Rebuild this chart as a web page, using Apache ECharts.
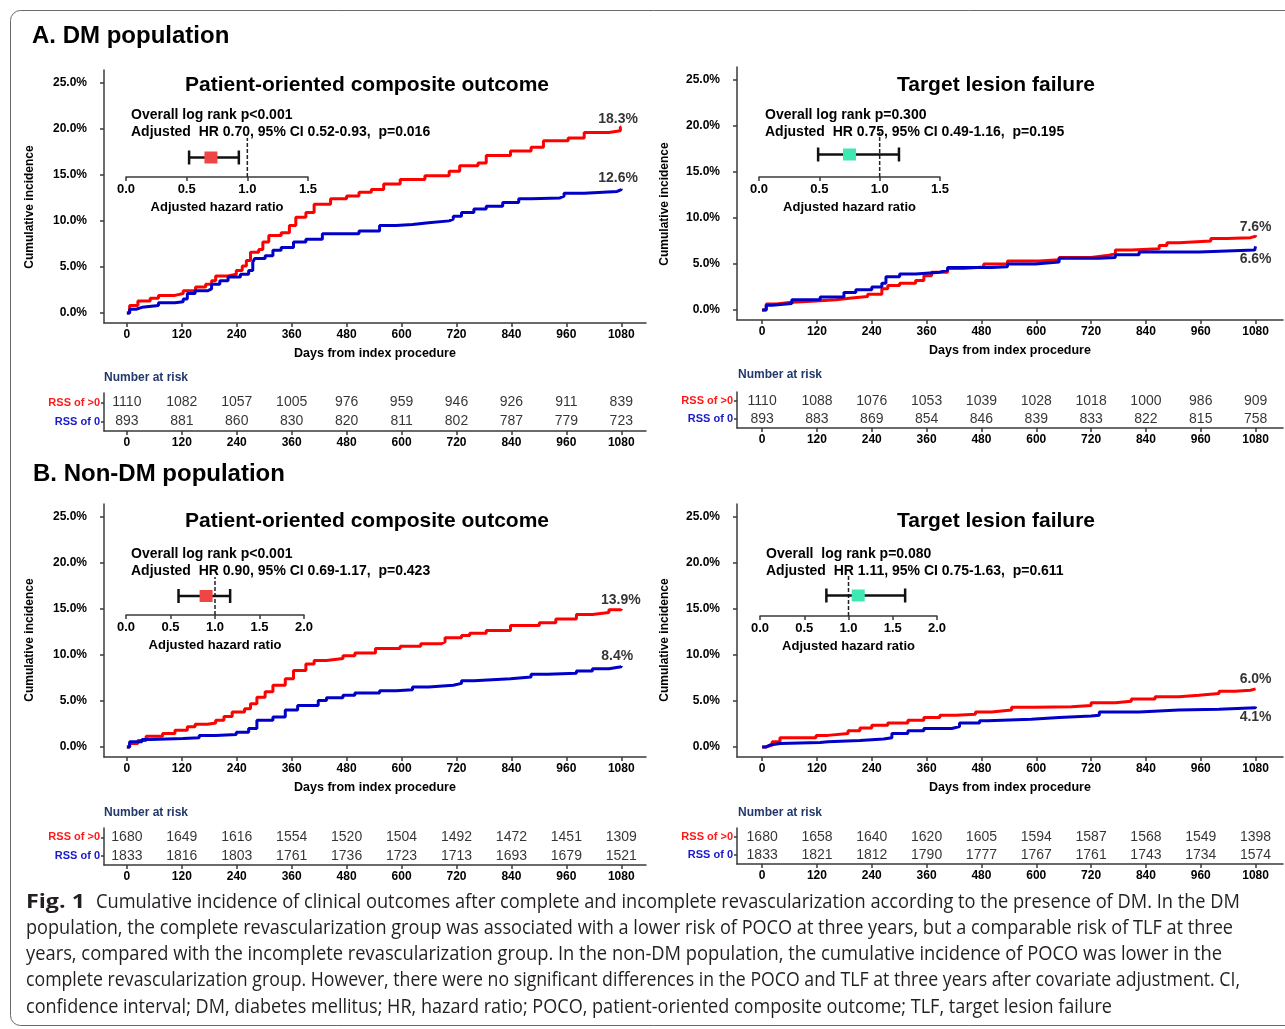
<!DOCTYPE html>
<html>
<head>
<meta charset="utf-8">
<title>Fig. 1 Cumulative incidence</title>
<script src="https://cdn.jsdelivr.net/npm/echarts@6/dist/echarts.min.js"></script>
<style>
  html, body { margin: 0; padding: 0; background: #fff; }
  #main { width: 1285px; height: 1029px; }
</style>
</head>
<body>
<div id="main"></div>
<script>
// ticks
var days = [0, 120, 240, 360, 480, 600, 720, 840, 960, 1080];
var pctTicks = [0, 5, 10, 15, 20, 25];
var rowNames = ['RSS of 0', 'RSS of >0'];

// cumulative incidence curves, [day, %] (red = RSS of >0, blue = RSS of 0)
var dmPocoRed = [[0,0],[6,0.8],[24,1.3],[51,1.6],[69,1.9],[105,2.1],[123,2.4],[150,2.8],[172,3.1],[185,3.5],[194,4.0],[221,4.2],[239,4.6],[252,5.1],[261,5.7],[270,6.6],[288,6.9],[297,7.7],[310,8.4],[337,8.7],[355,9.5],[369,10.4],[391,10.9],[409,11.8],[445,12.4],[480,12.7],[507,13.1],[534,13.4],[561,14.0],[597,14.5],[651,14.9],[704,15.4],[727,16.0],[767,16.3],[785,17.1],[838,17.6],[883,18.0],[910,18.7],[964,19.0],[999,19.6],[1053,19.8],[1078,20.2],[1080,20.2]];
var dmPocoBlue = [[0,0],[6,0.4],[20,0.6],[33,0.8],[69,1.1],[105,1.2],[123,1.5],[132,2.1],[149,2.4],[176,2.6],[185,3.1],[203,3.5],[221,3.9],[248,4.2],[266,4.6],[275,5.5],[279,5.9],[302,6.2],[319,6.8],[337,7.1],[364,7.7],[391,8.0],[427,8.6],[507,8.9],[552,9.5],[588,9.6],[624,9.8],[659,10.0],[704,10.2],[713,10.5],[731,10.9],[758,11.3],[785,11.6],[821,12.0],[856,12.4],[883,12.5],[946,12.7],[955,13.0],[999,13.2],[1071,13.4],[1080,13.5]];
var dmTlfRed = [[0,0],[9,0.65],[31,0.84],[65,0.95],[109,1.1],[162,1.3],[196,1.45],[231,1.7],[262,2.3],[275,2.65],[301,2.9],[336,3.2],[354,3.7],[371,4.1],[406,4.5],[441,4.65],[485,5.0],[537,5.3],[607,5.45],[650,5.7],[720,5.9],[755,6.1],[773,6.5],[808,6.65],[869,7.0],[886,7.3],[912,7.5],[982,7.75],[1017,7.85],[1069,8.0],[1080,8.1]];
var dmTlfBlue = [[0,0],[9,0.5],[22,0.7],[65,1.1],[127,1.4],[179,1.9],[205,2.2],[240,2.5],[262,2.9],[271,3.6],[301,3.9],[336,4.1],[389,4.3],[406,4.6],[502,4.7],[537,5.0],[598,5.2],[650,5.6],[738,5.7],[773,6.0],[825,6.3],[956,6.5],[1078,6.65],[1080,6.9]];
var nonDmPocoRed = [[0,0],[6,0.36],[24,0.7],[42,1.15],[78,1.45],[105,1.8],[132,2.2],[149,2.45],[176,2.6],[194,2.9],[212,3.3],[230,3.8],[257,4.15],[270,4.7],[284,5.4],[302,6.0],[319,6.7],[346,7.4],[364,8.3],[391,9.0],[409,9.4],[436,9.6],[472,9.9],[498,10.2],[543,10.7],[597,10.95],[642,11.2],[686,11.4],[695,11.85],[731,12.1],[749,12.35],[785,12.65],[838,13.2],[901,13.5],[937,13.9],[982,14.4],[1017,14.6],[1053,14.9],[1080,15.0]];
var nonDmPocoBlue = [[0,0],[6,0.55],[33,0.8],[51,0.9],[123,1.0],[158,1.25],[194,1.35],[239,1.6],[266,2.0],[284,2.9],[319,3.25],[346,4.0],[373,4.5],[418,5.05],[436,5.35],[472,5.6],[498,5.85],[552,6.1],[588,6.2],[624,6.5],[659,6.7],[713,6.9],[731,7.2],[758,7.4],[838,7.6],[883,7.9],[919,8.0],[982,8.25],[1017,8.5],[1053,8.7],[1080,8.8]];
var nonDmTlfRed = [[0,0],[9,0.2],[22,0.55],[39,1.0],[118,1.25],[144,1.45],[188,1.75],[214,2.05],[240,2.35],[275,2.6],[319,2.9],[354,3.2],[389,3.45],[424,3.55],[467,3.8],[502,4.0],[546,4.3],[598,4.35],[677,4.5],[720,4.8],[773,4.95],[808,5.2],[860,5.45],[912,5.6],[956,5.8],[1000,6.05],[1035,6.15],[1069,6.3],[1080,6.3]];
var nonDmTlfBlue = [[0,0],[9,0.2],[17,0.36],[39,0.47],[127,0.55],[144,0.7],[214,0.85],[266,1.0],[284,1.45],[319,1.75],[354,2.0],[415,2.2],[432,2.6],[476,2.85],[493,3.0],[589,3.2],[650,3.35],[720,3.45],[738,3.8],[825,4.0],[912,4.1],[1000,4.25],[1080,4.35]];

// number at risk
var dmPocoRiskRed = [1110, 1082, 1057, 1005, 976, 959, 946, 926, 911, 839];
var dmPocoRiskBlue = [893, 881, 860, 830, 820, 811, 802, 787, 779, 723];
var dmTlfRiskRed = [1110, 1088, 1076, 1053, 1039, 1028, 1018, 1000, 986, 909];
var dmTlfRiskBlue = [893, 883, 869, 854, 846, 839, 833, 822, 815, 758];
var nonDmPocoRiskRed = [1680, 1649, 1616, 1554, 1520, 1504, 1492, 1472, 1451, 1309];
var nonDmPocoRiskBlue = [1833, 1816, 1803, 1761, 1736, 1723, 1713, 1693, 1679, 1521];
var nonDmTlfRiskRed = [1680, 1658, 1640, 1620, 1605, 1594, 1587, 1568, 1549, 1398];
var nonDmTlfRiskBlue = [1833, 1821, 1812, 1790, 1777, 1767, 1761, 1743, 1734, 1574];

// adjusted hazard ratios (forest insets)
var hrEst = [0.70, 0.75, 0.90, 1.11];
var hrLow = [0.52, 0.49, 0.59, 0.75];
var hrHigh = [0.93, 1.16, 1.17, 1.64];
var hrAxisMax = [1.5, 1.5, 2.0, 2.0];

// texts
var panelTitles = ['Patient-oriented composite outcome', 'Target lesion failure', 'Patient-oriented composite outcome', 'Target lesion failure'];
var logRankText = ['Overall log rank p<0.001', 'Overall log rank p=0.300', 'Overall log rank p<0.001', 'Overall  log rank p=0.080'];
var hrText = ['Adjusted  HR 0.70, 95% CI 0.52-0.93,  p=0.016', 'Adjusted  HR 0.75, 95% CI 0.49-1.16,  p=0.195',
              'Adjusted  HR 0.90, 95% CI 0.69-1.17,  p=0.423', 'Adjusted  HR 1.11, 95% CI 0.75-1.63,  p=0.611'];
var endRed = ['18.3%', '7.6%', '13.9%', '6.0%'];
var endBlue = ['12.6%', '6.6%', '8.4%', '4.1%'];
var captionLines = [
  'Cumulative incidence of clinical outcomes after complete and incomplete revascularization according to the presence of DM. In the DM',
  'population, the complete revascularization group was associated with a lower risk of POCO at three years, but a comparable risk of TLF at three',
  'years, compared with the incomplete revascularization group. In the non-DM population, the cumulative incidence of POCO was lower in the',
  'complete revascularization group. However, there were no significant differences in the POCO and TLF at three years after covariate adjustment. CI,',
  'confidence interval; DM, diabetes mellitus; HR, hazard ratio; POCO, patient-oriented composite outcome; TLF, target lesion failure'
];

var curvesRed = [dmPocoRed, dmTlfRed, nonDmPocoRed, nonDmTlfRed];
var curvesBlue = [dmPocoBlue, dmTlfBlue, nonDmPocoBlue, nonDmTlfBlue];
var riskRed = [dmPocoRiskRed, dmTlfRiskRed, nonDmPocoRiskRed, nonDmTlfRiskRed];
var riskBlue = [dmPocoRiskBlue, dmTlfRiskBlue, nonDmPocoRiskBlue, nonDmTlfRiskBlue];

// layout of the 4 panels (pixels)
var layout = [
  {left: 104, width: 542, xMin: -50, xMax: 1134, top: 70, titleX: 367, titleY: 85, statX: 131, statY: 115, yNameX: 30, yNameY: 207,
   fLeft: 126, fWidth: 182, fTop: 138, fHeight: 39, rTop: 393, rHeight: 38, narX: 104, narY: 378, endPos: [[1073, 21.1], [1073, 14.6]]},
  {left: 737, width: 546, xMin: -55, xMax: 1140, top: 67, titleX: 996, titleY: 85, statX: 765, statY: 115, yNameX: 665, yNameY: 204,
   fLeft: 759, fWidth: 181, fTop: 132, fHeight: 45, rTop: 392, rHeight: 36, narX: 738, narY: 375, endPos: [[1080, 9.0], [1080, 5.5]]},
  {left: 104, width: 542, xMin: -50, xMax: 1134, top: 504, titleX: 367, titleY: 521, statX: 131, statY: 554, yNameX: 30, yNameY: 640,
   fLeft: 126, fWidth: 178, fTop: 577, fHeight: 38, rTop: 828, rHeight: 37, narX: 104, narY: 813, endPos: [[1079, 16.0], [1071, 9.9]]},
  {left: 737, width: 546, xMin: -55, xMax: 1140, top: 504, titleX: 996, titleY: 521, statX: 766, statY: 554, yNameX: 665, yNameY: 640,
   fLeft: 760, fWidth: 177, fTop: 575, fHeight: 41, rTop: 828, rHeight: 36, narX: 738, narY: 813, endPos: [[1080, 7.4], [1080, 3.2]]}
];

var FONT = '"Liberation Sans", Arial, sans-serif';
var RED = '#ff0000';
var BLUE = '#0000c8';
var AXIS = '#3a3a3a';
var boxColors = ['#f04545', '#3ee8b2', '#f04545', '#3ee8b2'];

var grids = [], xAxes = [], yAxes = [], series = [], graphics = [];

function daysAxis(gi, L, withName) {
  var ax = {
    gridIndex: gi, type: 'value', min: L.xMin, max: L.xMax,
    axisLine: {show: true, onZero: false, lineStyle: {color: AXIS, width: 1.5}},
    axisTick: {show: true, customValues: days, length: 4, lineStyle: {color: AXIS, width: 1.5}},
    axisLabel: {customValues: days, margin: 6, fontFamily: FONT, fontWeight: 'bold', fontSize: 12, color: '#000',
      formatter: function (v) { return String(v); }},
    splitLine: {show: false}
  };
  if (withName) {
    ax.name = 'Days from index procedure';
    ax.nameLocation = 'middle';
    ax.nameGap = 24;
    ax.nameTextStyle = {fontFamily: FONT, fontWeight: 'bold', fontSize: 12.5, color: '#000'};
  }
  return ax;
}

function renderForest(params, api) {
  var pHr = api.coord([api.value(0), api.value(1)]);
  var pLo = api.coord([api.value(2), api.value(1)]);
  var pHi = api.coord([api.value(3), api.value(1)]);
  var r0 = api.coord([1, 0]);
  var r1 = api.coord([1, 1]);
  var color = boxColors[api.value(4)];
  return {
    type: 'group',
    children: [
      {type: 'line', shape: {x1: r0[0], y1: r0[1], x2: r1[0], y2: r1[1]}, style: {stroke: '#222', lineWidth: 1.5, lineDash: [4, 2]}},
      {type: 'line', shape: {x1: pLo[0], y1: pLo[1], x2: pHi[0], y2: pHi[1]}, style: {stroke: '#111', lineWidth: 2.5}},
      {type: 'line', shape: {x1: pLo[0], y1: pLo[1] - 7, x2: pLo[0], y2: pLo[1] + 7}, style: {stroke: '#111', lineWidth: 2.5}},
      {type: 'line', shape: {x1: pHi[0], y1: pHi[1] - 7, x2: pHi[0], y2: pHi[1] + 7}, style: {stroke: '#111', lineWidth: 2.5}},
      {type: 'rect', shape: {x: pHr[0] - 6.5, y: pHr[1] - 6, width: 13, height: 12}, style: {fill: color}}
    ]
  };
}

for (var i = 0; i < 4; i++) {
  var L = layout[i];
  var g = i * 3;

  // main KM grid
  grids.push({left: L.left, top: L.top, width: L.width, height: 253, outerBoundsMode: 'none'});
  xAxes.push(daysAxis(g, L, true));
  yAxes.push({
    gridIndex: g, type: 'value', min: -1.1, max: 26.4,
    axisLine: {show: true, onZero: false, lineStyle: {color: AXIS, width: 1.5}},
    axisTick: {show: true, customValues: pctTicks, length: 4, lineStyle: {color: AXIS, width: 1.5}},
    axisLabel: {customValues: pctTicks, margin: 17, fontFamily: FONT, fontWeight: 'bold', fontSize: 12, color: '#000',
      formatter: function (v) { return v.toFixed(1) + '%'; }},
    splitLine: {show: false}
  });
  series.push({type: 'line', xAxisIndex: g, yAxisIndex: g, data: curvesRed[i], step: 'end', showSymbol: false,
    lineStyle: {color: RED, width: 3}, itemStyle: {color: RED}, z: 3, silent: true});
  series.push({type: 'line', xAxisIndex: g, yAxisIndex: g, data: curvesBlue[i], step: 'end', showSymbol: false,
    lineStyle: {color: BLUE, width: 3}, itemStyle: {color: BLUE}, z: 4, silent: true});
  // 3-year percentages near the curve ends
  series.push({type: 'scatter', xAxisIndex: g, yAxisIndex: g, symbolSize: 0, itemStyle: {color: '#000'}, z: 6, silent: true,
    data: [[L.endPos[0][0], L.endPos[0][1], endRed[i]], [L.endPos[1][0], L.endPos[1][1], endBlue[i]]],
    label: {show: true, position: 'inside', formatter: function (p) { return p.value[2]; },
      fontFamily: FONT, fontWeight: 'bold', fontSize: 14, color: '#000', textBorderWidth: 0}});

  // forest inset
  grids.push({left: L.fLeft, top: L.fTop, width: L.fWidth, height: L.fHeight, outerBoundsMode: 'none'});
  xAxes.push({
    gridIndex: g + 1, type: 'value', min: 0, max: hrAxisMax[i], interval: 0.5,
    axisLine: {show: true, onZero: false, lineStyle: {color: AXIS, width: 1.5}},
    axisTick: {show: true, length: 4, lineStyle: {color: AXIS, width: 1.5}},
    axisLabel: {margin: 6, fontFamily: FONT, fontWeight: 'bold', fontSize: 13, color: '#000',
      formatter: function (v) { return v.toFixed(1); }},
    splitLine: {show: false},
    name: 'Adjusted hazard ratio', nameLocation: 'middle', nameGap: 24,
    nameTextStyle: {fontFamily: FONT, fontWeight: 'bold', fontSize: 13, color: '#000'}
  });
  yAxes.push({gridIndex: g + 1, type: 'value', min: 0, max: 1, show: false});
  series.push({type: 'custom', xAxisIndex: g + 1, yAxisIndex: g + 1, renderItem: renderForest, silent: true, z: 5,
    data: [[hrEst[i], 0.5, hrLow[i], hrHigh[i], i]]});

  // number at risk table
  grids.push({left: L.left, top: L.rTop, width: L.width, height: L.rHeight, outerBoundsMode: 'none'});
  xAxes.push(daysAxis(g + 2, L, false));
  yAxes.push({
    gridIndex: g + 2, type: 'category', data: rowNames,
    axisLine: {show: true, onZero: false, lineStyle: {color: AXIS, width: 1.5}},
    axisTick: {show: true, alignWithLabel: true, length: 3, lineStyle: {color: AXIS, width: 1.5}},
    axisLabel: {margin: 4, fontFamily: FONT, fontWeight: 'bold', fontSize: 11,
      color: function (v) { return v === 'RSS of >0' ? '#ff1a1a' : '#1a1acc'; }},
    splitLine: {show: false}
  });
  var tableData = [];
  for (var k = 0; k < days.length; k++) {
    tableData.push([days[k], 1, riskRed[i][k]]);
    tableData.push([days[k], 0, riskBlue[i][k]]);
  }
  series.push({type: 'scatter', xAxisIndex: g + 2, yAxisIndex: g + 2, symbolSize: 0, itemStyle: {color: '#000'}, silent: true,
    data: tableData,
    label: {show: true, position: 'inside', formatter: function (p) { return p.value[2]; },
      fontFamily: FONT, fontSize: 14, color: '#000', textBorderWidth: 0}});

  // texts of the panel
  graphics.push({type: 'text', x: L.titleX, y: L.titleY,
    style: {text: panelTitles[i], font: 'bold 21px ' + FONT, fill: '#000', align: 'center', verticalAlign: 'middle'}});
  graphics.push({type: 'text', x: L.statX, y: L.statY,
    style: {text: logRankText[i], font: 'bold 14px ' + FONT, fill: '#000', align: 'left', verticalAlign: 'middle'}});
  graphics.push({type: 'text', x: L.statX, y: L.statY + 17.3,
    style: {text: hrText[i], font: 'bold 14px ' + FONT, fill: '#000', align: 'left', verticalAlign: 'middle'}});
  graphics.push({type: 'text', x: L.yNameX, y: L.yNameY, rotation: Math.PI / 2,
    style: {text: 'Cumulative incidence', font: 'bold 12px ' + FONT, fill: '#000', align: 'center', verticalAlign: 'middle'}});
  graphics.push({type: 'text', x: L.narX, y: L.narY,
    style: {text: 'Number at risk', font: 'bold 12px ' + FONT, fill: '#22386a', align: 'left', verticalAlign: 'middle'}});
}

// figure frame and section headings
graphics.push({type: 'rect', shape: {x: 10.5, y: 10.5, width: 1300, height: 1015, r: 10},
  style: {fill: 'none', stroke: '#6a6a6a', lineWidth: 1}, z: -1});
graphics.push({type: 'text', x: 32, y: 36,
  style: {text: 'A. DM population', font: 'bold 24px ' + FONT, fill: '#000', verticalAlign: 'middle'}});
graphics.push({type: 'text', x: 33, y: 474,
  style: {text: 'B. Non-DM population', font: 'bold 24px ' + FONT, fill: '#000', verticalAlign: 'middle'}});

// caption, squeezed to the width of the original lines
var capFont = '"Open Sans", "Noto Sans", sans-serif';
var capSize = 20;
var capY = [902, 928, 954, 980, 1007];
var capStart = [96, 26, 26, 26, 26];
var capEnd = [1240, 1233, 1222, 1240, 1112];
var ctx = document.createElement('canvas').getContext('2d');
function textWidth(t, bold) {
  ctx.font = (bold ? 'bold ' : '') + capSize + 'px ' + capFont;
  return ctx.measureText(t).width;
}
graphics.push({type: 'text', x: 26, y: capY[0], scaleX: 59 / textWidth('Fig. 1', true),
  style: {text: 'Fig. 1', font: 'bold ' + capSize + 'px ' + capFont, fill: '#231f20', verticalAlign: 'middle'}});
for (var c = 0; c < captionLines.length; c++) {
  var sx = (capEnd[c] - capStart[c]) / textWidth(captionLines[c], false);
  graphics.push({type: 'text', x: capStart[c], y: capY[c], scaleX: sx,
    style: {text: captionLines[c], font: capSize + 'px ' + capFont, fill: '#231f20', verticalAlign: 'middle'}});
}

var chart = echarts.init(document.getElementById('main'));
var option = {
  backgroundColor: '#ffffff',
  animation: false,
  grid: grids,
  xAxis: xAxes,
  yAxis: yAxes,
  series: series,
  graphic: {elements: graphics}
};
chart.setOption(option);
</script>
</body>
</html>
